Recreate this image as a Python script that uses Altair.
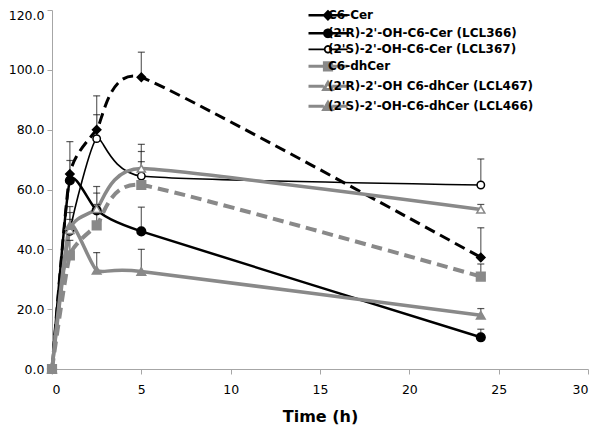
import json
import altair as alt
import pandas as pd

# ---------------- data ----------------
time_h = [0, 1, 2.5, 5, 24]
series = [
    "C6-Cer",
    "(2'R)-2'-OH-C6-Cer (LCL366)",
    "(2'S)-2'-OH-C6-Cer (LCL367)",
    "C6-dhCer",
    "(2'R)-2'-OH C6-dhCer (LCL467)",
    "(2'S)-2'-OH-C6-dhCer (LCL466)",
]
c6_cer = [0, 65.2, 80.0, 97.5, 37.3]
lcl366 = [0, 63.0, 53.0, 46.0, 10.6]
lcl367 = [0, 46.0, 77.0, 64.5, 61.5]
c6_dhcer = [0, 38.0, 48.0, 61.5, 30.9]
lcl467 = [0, 46.5, 53.5, 67.0, 53.3]
lcl466 = [0, 48.0, 33.0, 32.6, 18.0]

# upper end of the error bars (mean + error)
c6_cer_up = [None, 76.0, 91.3, 105.9, 47.2]
lcl366_up = [None, 69.7, 55.0, 54.1, 13.3]
lcl367_up = [None, 54.3, 85.0, 72.7, 70.2]
c6_dhcer_up = [None, 43.0, 58.8, 69.3, 35.1]
lcl467_up = [None, 50.0, 61.0, 75.1, 55.0]
lcl466_up = [None, 52.3, 38.9, 40.0, 20.2]

values = [c6_cer, lcl366, lcl367, c6_dhcer, lcl467, lcl466]
uppers = [c6_cer_up, lcl366_up, lcl367_up, c6_dhcer_up, lcl467_up, lcl466_up]

x_ticks = [0, 5, 10, 15, 20, 25, 30]
y_ticks = [0, 20, 40, 60, 80, 100, 120]

# ---------------- styles ----------------
BLACK = "#000000"
GRAY = "#898989"
stroke_colors = [BLACK, BLACK, BLACK, GRAY, GRAY, GRAY]
fill_colors = [BLACK, BLACK, "#ffffff", GRAY, "#ffffff", GRAY]
shapes = ["diamond", "circle", "circle", "square", "triangle-up", "triangle-up"]
point_sizes = [70, 75, 55, 75, 65, 75]
dashes = [[11, 6], None, None, [11, 6], None, None]
widths = [3, 2.5, 1.6, 4, 3.5, 3.5]
legend_widths = [2.5, 2.5, 1.8, 3, 3, 3]

# legend symbols: short line + marker (unit = 6 px)
legend_paths = [
    "M-3.25,0H-0.65M0.65,0H3.25M0,-0.65L0.65,0L0,0.65L-0.65,0Z",
    "M-3.25,0H-0.6M0.6,0H3.25M-0.6,0A0.6,0.6,0,1,0,0.6,0A0.6,0.6,0,1,0,-0.6,0Z",
    "M-3.25,0H-0.55M0.55,0H3.25M-0.55,0A0.55,0.55,0,1,0,0.55,0A0.55,0.55,0,1,0,-0.55,0Z",
    "M-3.25,0H-0.6M0.6,0H3.25M-0.6,-0.6H0.6V0.6H-0.6Z",
    "M-3.25,0H-0.7M0.7,0H3.25M0,-0.65L0.7,0.55H-0.7Z",
    "M-3.25,0H-0.7M0.7,0H3.25M0,-0.65L0.7,0.55H-0.7Z",
]

names_js = json.dumps(series)


def pick(arr):
    return alt.ExprRef(expr=f"{json.dumps(arr)}[indexof({names_js}, datum.value)]")


rows = []
for s, vals, ups in zip(series, values, uppers):
    for t, v, u in zip(time_h, vals, ups):
        rows.append({"series": s, "time": t, "value": v, "upper": u})
df = pd.DataFrame(rows)

x_enc = alt.X("time:Q", scale=alt.Scale(domain=[0, 30], nice=False),
              axis=alt.Axis(values=x_ticks, title="Time (h)"))
y_enc = alt.Y("value:Q", scale=alt.Scale(domain=[0, 120], nice=False),
              axis=alt.Axis(values=y_ticks, format=".1f", title=None,
                            labelOffset=alt.ExprRef(expr="datum.value == 120 ? 5.5 : 0")))

stroke_scale = alt.Scale(domain=series, range=stroke_colors)
fill_scale = alt.Scale(domain=series, range=fill_colors)

legend = alt.Legend(
    title=None,
    orient="none",
    legendX=276,
    legendY=5.3,
    labelFont="DejaVu Sans",
    labelFontSize=12,
    labelFontWeight="bold",
    labelColor="black",
    labelOffset=12,
    labelLimit=400,
    symbolSize=144,
    rowPadding=0,
    padding=0,
    symbolType=pick(legend_paths),
    symbolFillColor=pick(fill_colors),
    symbolStrokeColor=pick(stroke_colors),
    symbolStrokeWidth=pick(legend_widths),
    symbolDash=[1, 0],
    symbolOpacity=1,
)

line_layers = []
for i, s in enumerate(series):
    kw = dict(interpolate="cardinal", tension=0.5, strokeWidth=widths[i], color=stroke_colors[i])
    if dashes[i] is not None:
        kw["strokeDash"] = dashes[i]
    line_layers.append(
        alt.Chart(df).transform_filter(alt.datum.series == s).mark_line(**kw).encode(
            x=x_enc,
            y=y_enc,
            order=alt.Order("time:Q"),
        )
    )

err_df = df[df["upper"].notna()]
err_rules = alt.Chart(err_df).mark_rule(color="#707070", strokeWidth=1.3).encode(
    x="time:Q", y="value:Q", y2="upper:Q"
)
err_caps = alt.Chart(err_df).mark_tick(orient="horizontal", size=7, thickness=1.2, color="#111111").encode(
    x="time:Q", y="upper:Q"
)

point_layers = []
for i, s in enumerate(series):
    point_layers.append(
        alt.Chart(df).transform_filter(alt.datum.series == s).mark_point(
            shape=shapes[i], size=point_sizes[i], opacity=1, strokeWidth=1.5, filled=False
        ).encode(
            x="time:Q",
            y="value:Q",
            stroke=alt.Stroke("series:N", scale=stroke_scale, legend=legend, sort=series),
            fill=alt.Fill("series:N", scale=fill_scale, legend=legend, sort=series),
        )
    )

chart = alt.layer(*line_layers, err_rules, err_caps, *point_layers).properties(
    width=536,
    height=359,
    autosize=alt.AutoSizeParams(type="none"),
    padding={"left": 44, "top": 2, "right": 4, "bottom": 60},
).configure_view(stroke=None).configure_axis(
    grid=False,
    domainColor="#a6a6a6",
    tickColor="#a6a6a6",
    tickSize=5,
    labelFont="DejaVu Sans",
    labelFontSize=12.5,
    labelColor="black",
    titleFont="DejaVu Sans",
    titleFontSize=16,
    titleFontWeight="bold",
    titleColor="black",
).configure_axisX(labelPadding=9, titlePadding=13).configure_axisY(labelPadding=3)

chart.save("out.html", embed_options={"renderer": "svg", "actions": False})
